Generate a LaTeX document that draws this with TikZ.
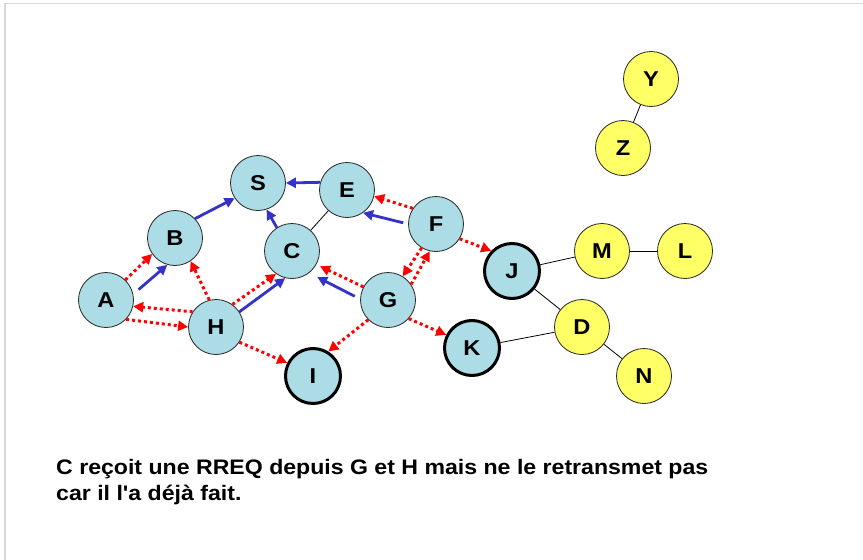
\documentclass[tikz,border=0pt]{standalone}
\usepackage{fontspec}
\setmainfont{Liberation Sans}
\newfontfamily\labfont{Liberation Sans}[FakeStretch=1.1, Ligatures=TeXOff]
\usetikzlibrary{arrows.meta}
\definecolor{nodecyan}{RGB}{172,220,229}
\definecolor{nodeyellow}{RGB}{255,255,102}
\definecolor{arrowblue}{RGB}{51,51,204}
\definecolor{framegray}{RGB}{217,217,217}
\begin{document}
\begin{tikzpicture}[x=1pt,y=-1pt,
  base/.style={circle, minimum size=55pt, inner sep=0pt,
    font=\labfont\bfseries\fontsize{21.5}{25}\selectfont},
  net/.style={base, draw=black!85, line width=0.8pt, fill=nodecyan},
  thick net/.style={base, draw=black, line width=3pt, fill=nodecyan},
  ynet/.style={base, draw=black!85, line width=0.8pt, fill=nodeyellow},
  bluearrow/.style={draw=arrowblue, line width=2.8pt, -{Triangle[length=10pt,width=10pt]}},
  redarrow/.style={draw=red, line width=3pt, dash pattern=on 3pt off 3pt, -{Triangle[length=10pt,width=10pt]}},
  link/.style={draw=black, line width=0.8pt},
  txt/.style={anchor=base west, inner sep=0pt, font=\labfont\bfseries\fontsize{21}{25}\selectfont}
]
\useasboundingbox (0,0) rectangle (863,560);
\draw[framegray, line width=1.5pt] (5,560) -- (5,3.5) -- (863,3.5);

% nodes
\node[net] (A) at (106,300) {A};
\node[net] (B) at (175,238) {B};
\node[net] (S) at (258,183) {S};
\node[net] (H) at (216,327) {H};
\node[net] (C) at (292,251) {C};
\node[net] (E) at (347,190) {E};
\node[net] (F) at (436,224) {F};
\node[net] (G) at (388,300) {G};
\node[thick net] (I) at (313,376) {I};
\node[thick net] (J) at (512,271) {J};
\node[thick net] (K) at (472,348) {K};
\node[ynet] (Y) at (651,79) {Y};
\node[ynet] (Z) at (623,148) {Z};
\node[ynet] (M) at (602,251) {M};
\node[ynet] (L) at (685,251) {L};
\node[ynet] (D) at (582,327) {D};
\node[ynet] (N) at (644,376) {N};

% thin links
\draw[link] (C) -- (E);
\draw[link] (J) -- (M);
\draw[link] (M) -- (L);
\draw[link] (J) -- (D);
\draw[link] (K) -- (D);
\draw[link] (D) -- (N);
\draw[link] (Y) -- (Z);

% blue arrows
\draw[bluearrow, shorten <=7pt] (A.12) -- (B.254);
\draw[bluearrow] (B.44) -- (S.213);
\draw[bluearrow] (C.123) -- (S.288);
\draw[bluearrow] (E.164) -- (S.0);
\draw[bluearrow, shorten <=5pt] (F.180) -- (E.305);
\draw[bluearrow, shorten <=6pt, shorten >=9pt] (G.178) -- (C.308);
\draw[bluearrow] (H.33) -- (C.256);

% red dotted arrows
\draw[redarrow] (A.46) -- (B.215);
\draw[redarrow] (H.104) -- (B.304);
\draw[redarrow] (H.147) -- (A.347);
\draw[redarrow] (A.316) -- (H.180);
\draw[redarrow] (H.54) -- (C.235);
\draw[redarrow] (H.327) -- (I.153);
\draw[redarrow, shorten >=4pt] (G.152) -- (C.331);
\draw[redarrow] (G.225) -- (I.58);
\draw[redarrow] (G.318) -- (K.153);
\draw[redarrow] (G.34) -- (F.257);
\draw[redarrow] (F.239) -- (G.58);
\draw[redarrow] (F.146) -- (E.347);
\draw[redarrow] (F.328) -- (J.136);

% caption
\node[txt] (line1) at (56,474) {C reçoit une RREQ depuis G et H mais ne le retransmet pas};
\node[txt] (line2) at (56,500) {car il l'a déjà fait.};
\end{tikzpicture}
\end{document}
